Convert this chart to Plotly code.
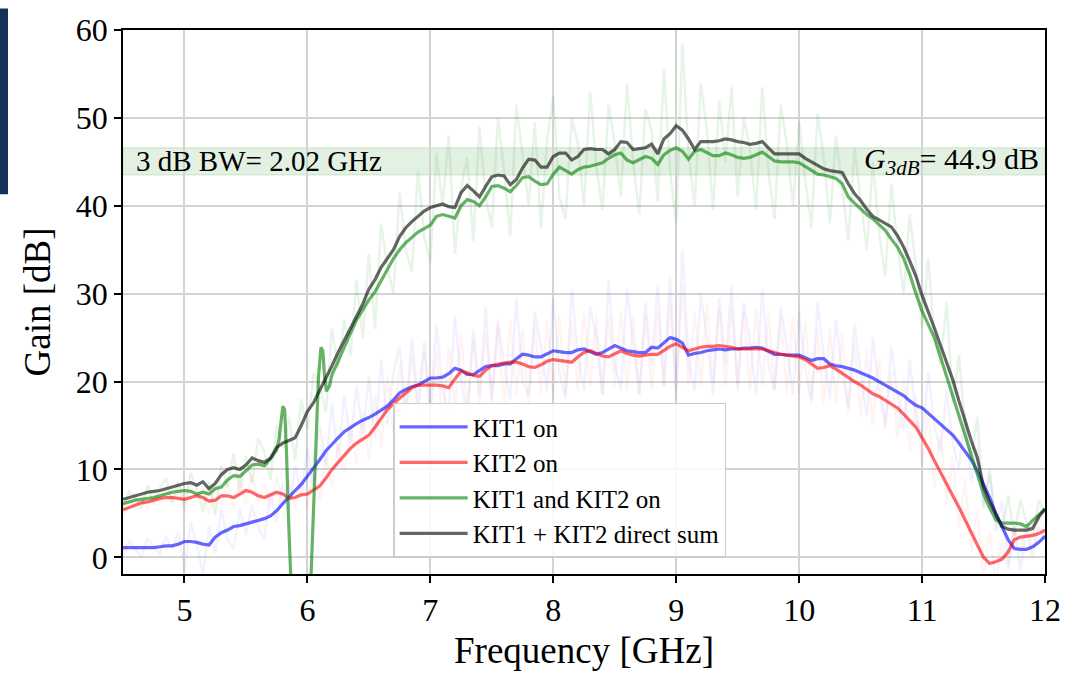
import plotly.graph_objects as go

# ---------------- data ----------------
FREQ = [round(4.5 + 0.05 * i, 2) for i in range(151)]  # GHz grid

KIT1 = [1.1, 1.1, 1.1, 1.1, 1.1, 1.1, 1.2, 1.3, 1.3, 1.5,
        1.8, 1.8, 1.7, 1.5, 1.4, 2.3, 2.8, 3.1, 3.5, 3.6,
        3.8, 4.0, 4.2, 4.4, 4.7, 5.3, 6.1, 6.9, 7.6, 8.3,
        9.2, 10.1, 11.1, 12.1, 12.9, 13.6, 14.3, 14.8, 15.2, 15.6,
        15.9, 16.3, 16.8, 17.2, 17.9, 18.7, 19.1, 19.4, 19.6, 20.0,
        20.4, 20.4, 20.5, 20.9, 21.5, 21.3, 20.8, 20.8, 21.2, 21.7,
        21.8, 21.8, 22.0, 22.0, 22.6, 23.1, 23.0, 22.8, 22.8, 23.2,
        23.5, 23.4, 23.3, 23.3, 23.6, 23.7, 23.4, 23.1, 23.3, 23.7,
        24.1, 23.8, 23.5, 23.4, 23.3, 23.3, 23.9, 23.8, 24.4, 25.0,
        24.8, 24.4, 23.0, 23.2, 23.3, 23.5, 23.6, 23.7, 23.6, 23.7,
        23.7, 23.8, 23.8, 23.9, 23.8, 23.5, 23.1, 23.1, 23.0, 23.0,
        23.0, 22.7, 22.4, 22.6, 22.6, 22.0, 21.8, 21.7, 21.5, 21.3,
        21.0, 20.7, 20.4, 20.0, 19.6, 19.3, 18.9, 18.4, 17.8, 17.3,
        17.0, 16.4, 15.7, 15.1, 14.5, 13.9, 13.0, 12.0, 11.1, 9.8,
        8.3, 6.8, 5.0, 3.5, 2.0, 1.0, 0.9, 0.9, 1.2, 1.7,
        2.4]

KIT2 = [5.4, 5.7, 6.0, 6.2, 6.3, 6.5, 6.7, 6.8, 6.8, 6.7,
        6.6, 6.8, 7.0, 6.8, 6.4, 6.5, 7.0, 7.0, 6.8, 7.2,
        7.6, 7.4, 7.0, 6.8, 7.1, 7.4, 7.2, 6.7, 6.8, 7.1,
        7.2, 7.7, 8.1, 9.0, 10.0, 10.8, 11.6, 12.4, 13.0, 13.5,
        13.9, 14.8, 15.8, 16.8, 17.5, 18.1, 18.8, 19.3, 19.6, 19.6,
        19.6, 19.6, 19.5, 19.3, 20.3, 21.2, 21.0, 20.7, 20.6, 21.3,
        21.8, 22.0, 22.1, 22.2, 22.2, 22.0, 21.7, 21.6, 21.9, 22.3,
        22.5, 22.4, 22.3, 22.2, 22.8, 23.3, 23.5, 23.2, 22.9, 22.8,
        23.2, 23.5, 23.2, 23.0, 22.9, 23.0, 23.1, 23.1, 23.6, 24.0,
        24.3, 23.9, 23.5, 23.7, 23.9, 24.0, 24.0, 24.1, 24.0, 23.9,
        23.7, 23.7, 23.7, 23.7, 23.7, 23.5, 23.3, 23.1, 23.0, 22.9,
        22.8, 22.5, 22.0, 21.5, 21.6, 21.8, 21.4, 20.9, 20.4, 20.0,
        19.6, 19.1, 18.6, 18.3, 17.9, 17.4, 17.0, 16.3, 15.6, 14.8,
        13.6, 12.4, 11.0, 9.6, 8.3, 7.0, 5.7, 4.2, 2.7, 1.4,
        0.0, -0.7, -0.5, -0.2, 0.6, 2.0, 2.3, 2.4, 2.5, 2.7,
        3.1]

DIRECT_SUM = [6.6, 6.8, 7.0, 7.2, 7.4, 7.5, 7.6, 7.8, 8.0, 8.2,
              8.4, 8.5, 8.2, 8.6, 7.8, 8.4, 9.4, 10.0, 10.2, 10.0,
              10.5, 11.3, 11.0, 10.8, 11.3, 12.5, 13.0, 13.3, 13.6, 15.0,
              16.6, 17.6, 19.0, 20.2, 21.8, 23.3, 24.7, 26.0, 27.5, 28.8,
              30.5, 31.6, 33.0, 34.0, 35.0, 36.5, 37.5, 38.2, 38.8, 39.4,
              39.8, 40.0, 40.2, 39.9, 39.8, 41.5, 42.3, 41.7, 41.0, 42.2,
              43.3, 43.5, 43.4, 42.4, 43.0, 44.3, 45.3, 45.2, 44.4, 44.4,
              45.6, 46.0, 46.0, 45.2, 45.6, 46.4, 46.5, 46.4, 46.4, 45.9,
              46.4, 47.3, 47.2, 46.4, 46.5, 46.6, 47.0, 45.9, 47.6, 48.2,
              49.1, 48.6, 47.6, 46.4, 47.3, 47.3, 47.3, 47.4, 47.6, 47.5,
              47.3, 47.2, 47.0, 47.1, 47.3, 46.6, 45.9, 45.9, 45.9, 45.9,
              45.9, 45.4, 45.0, 44.6, 44.2, 44.0, 43.9, 43.8, 42.5, 41.4,
              40.6, 39.6, 38.8, 38.4, 38.0, 37.6, 36.6, 35.3, 33.7, 32.0,
              29.8, 28.0, 26.1, 24.1, 22.2, 20.2, 17.8, 15.5, 13.3, 11.3,
              8.0, 6.3, 4.8, 3.5, 3.2, 3.1, 3.1, 3.1, 3.3, 4.6,
              5.5]

# KIT1 and KIT2 on: values on the grid outside 5.75-6.20, plus a finer
# list through the notch
BOTH_LOW = [6.1, 6.3, 6.5, 6.6, 6.7, 6.8, 7.0, 7.2, 7.4, 7.5,
            7.6, 7.5, 7.2, 7.4, 7.2, 7.8, 8.0, 8.8, 9.3, 9.2,
            9.8, 10.5, 10.6, 10.4, 11.2]                      # 4.50 .. 5.70
NOTCH_FREQ = [5.75, 5.77, 5.785, 5.80, 5.815, 5.83, 5.845, 5.86, 5.88, 5.95,
              6.0, 6.03, 6.06, 6.09, 6.11, 6.125, 6.14, 6.155, 6.18, 6.20]
NOTCH_GAIN = [12.2, 13.5, 15.5, 17.2, 16.8, 12.0, 5.0, -2.0, -8.0, -15.0,
              -9.0, -2.0, 10.0, 20.5, 23.9, 23.5, 20.5, 18.9, 19.5, 20.8]
BOTH_HIGH = [22.3, 24.0, 25.5, 27.0, 28.2, 29.3, 30.2, 31.5, 32.8, 34.0,
             35.0, 35.8, 36.4, 37.0, 37.4,                      # 6.25 .. 6.95
             37.8, 38.8, 39.0, 38.8, 38.6, 40.0, 40.7, 40.5, 40.0, 41.0,
             42.2, 42.3, 42.0, 41.6, 42.3, 43.2, 43.3, 42.8, 42.4, 42.5,
             43.6, 44.4, 44.0, 43.6, 44.1, 44.4, 44.5, 44.7, 44.9, 45.4,
             45.8, 46.0, 45.2, 44.9, 45.3, 45.6, 45.4, 44.7, 45.8, 46.3,
             46.6, 46.2, 45.3, 46.2, 46.4, 46.0, 45.7, 45.7, 46.0, 45.8,
             45.5, 45.4, 45.5, 45.8, 46.1, 45.6, 45.1, 45.0, 45.0, 45.0,
             44.9, 44.5, 44.1, 43.6, 43.5, 43.3, 43.1, 42.5, 41.0, 40.3,
             39.6, 39.0, 38.5, 37.9, 37.2, 36.2, 35.3, 34.0, 32.2, 30.0,
             28.0, 26.5, 25.0, 22.8, 20.6, 18.2, 16.0, 13.8, 11.5, 9.3,
             7.2, 5.6, 4.3, 3.9, 3.9, 3.9, 3.8, 3.5, 4.2, 4.8,
             5.5]

# faint raw (unsmoothed) traces
KIT1_RAW = [0.2, 1.8, 1.0, 0.0, 2.2, 1.2, 0.4, 2.4, 1.0, 2.8,
            -1.5, 4.0, 1.5, -2.0, 3.5, 0.5, 5.5, 2.0, 1.0, 5.5,
            2.5, 6.0, 3.5, 2.0, 7.5, 4.0, 8.5, 5.5, 10.5, 7.0,
            12.5, 8.0, 15.0, 10.5, 17.5, 11.0, 18.5, 13.0, 19.5, 14.0,
            20.5, 13.5, 22.5, 15.0, 21.0, 24.0, 16.5, 25.0, 17.5, 24.5,
            17.0, 26.5, 19.0, 16.5, 27.5, 20.0, 16.0, 26.0, 18.5, 28.5,
            17.5, 27.0, 22.0, 18.0, 29.5, 20.0, 18.5, 28.0, 24.0, 19.0,
            29.5, 21.0, 18.0, 30.5, 23.0, 19.0, 28.5, 25.0, 18.5, 31.5,
            22.0, 19.0, 30.5, 24.5, 18.5, 29.0, 22.0, 31.0, 19.5, 32.0,
            18.0, 35.0, 22.5, 19.0, 30.0, 25.0, 18.5, 29.5, 22.0, 31.0,
            19.0, 29.0, 24.5, 18.5, 30.5, 22.0, 19.0, 28.5, 24.0, 18.5,
            28.0, 21.5, 17.5, 29.0, 23.0, 18.0, 27.0, 21.0, 17.0, 26.5,
            21.5, 16.0, 25.0, 19.0, 15.0, 24.0, 18.5, 14.5, 22.5, 16.0,
            13.5, 21.0, 15.0, 12.0, 19.0, 13.0, 10.0, 16.5, 8.5, 12.5,
            6.0, 10.0, 3.0, 6.5, -1.0, 3.5, -1.5, 3.0, 0.0, 3.5,
            2.0]

KIT2_RAW = [4.6, 6.6, 5.5, 6.9, 5.4, 7.5, 6.0, 7.8, 6.3, 7.4,
            5.2, 8.2, 6.6, 8.0, 4.8, 8.4, 6.0, 8.6, 5.6, 9.0,
            6.0, 9.4, 6.2, 8.2, 5.8, 9.2, 6.0, 8.8, 5.4, 9.2,
            5.6, 10.0, 6.5, 11.5, 8.0, 13.0, 9.5, 15.0, 10.5, 16.5,
            11.0, 18.5, 12.5, 20.5, 14.0, 22.0, 15.5, 23.0, 16.0, 23.5,
            16.0, 23.5, 15.5, 24.0, 17.0, 25.5, 16.5, 25.0, 17.5, 25.5,
            18.0, 26.5, 17.5, 27.0, 18.5, 26.0, 17.0, 26.5, 18.5, 27.0,
            18.0, 27.5, 18.5, 27.0, 19.0, 28.0, 19.5, 27.5, 18.5, 27.5,
            19.5, 28.0, 19.0, 27.5, 18.5, 27.5, 19.0, 28.0, 19.5, 29.0,
            19.0, 31.0, 19.5, 28.0, 19.5, 29.0, 20.0, 28.5, 19.5, 28.5,
            19.5, 28.0, 19.0, 28.5, 19.5, 28.0, 19.0, 27.5, 18.5, 27.5,
            18.5, 27.0, 18.0, 26.0, 17.5, 26.0, 17.5, 25.5, 16.5, 24.5,
            16.0, 23.5, 15.0, 22.5, 14.5, 21.0, 13.5, 20.5, 12.0, 18.5,
            10.5, 17.0, 8.0, 14.5, 6.0, 11.5, 3.5, 9.0, 0.5, 5.5,
            -2.5, 3.0, -3.0, 2.0, -1.5, 3.5, 0.5, 4.0, 1.0, 4.5,
            3.0]

BOTH_RAW = [5.5, 7.5, 6.8, 5.6, 8.2, 6.0, 7.9, 9.0, 6.2, 8.6,
            6.0, 9.6, 7.8, 5.2, 8.6, 4.8, 10.4, 8.0, 11.8, 7.5,
            11.5, 8.5, 13.5, 12.0, 8.8, 15.0, 12.5, 16.0, 11.0, 18.0,
            14.5, 21.0, 19.5, 16.5, 26.0, 21.5, 27.0, 23.0, 31.5, 25.0,
            34.5, 26.0, 38.0, 33.0, 30.0, 41.5, 35.0, 32.5, 44.0, 36.5,
            33.5, 46.0, 40.0, 48.0, 34.5, 42.0, 45.5, 36.0, 49.0, 41.0,
            37.5, 50.0, 44.0, 36.5, 51.5, 46.0, 40.0, 49.5, 37.5, 47.5,
            52.5, 41.0, 38.5, 50.0, 47.0, 40.0, 53.0, 44.5, 39.5, 51.5,
            47.0, 41.0, 54.0, 45.0, 39.0, 51.0, 48.5, 40.5, 55.5, 44.0,
            38.0, 58.5, 46.0, 40.0, 54.0, 48.5, 39.5, 52.0, 45.0, 53.5,
            41.0, 50.0, 46.5, 39.5, 53.5, 44.0, 38.5, 51.5, 47.0, 40.0,
            49.5, 43.0, 37.5, 50.5, 45.5, 38.0, 48.0, 42.0, 36.0, 46.5,
            40.5, 35.0, 45.0, 37.0, 32.0, 42.5, 35.5, 30.0, 39.0, 33.0,
            26.0, 34.0, 25.0, 22.0, 29.0, 17.5, 23.0, 15.0, 11.0, 16.0,
            5.5, 9.5, 4.0, 3.0, 7.0, 2.5, 6.5, 4.0, 2.5, 6.5,
            5.0]

G_3DB = 44.9        # dB
BW_3DB = 2.02       # GHz
BAND = [43.5, 46.6]  # shaded 3 dB band (dB)

X_TICKS = [5, 6, 7, 8, 9, 10, 11, 12]
Y_TICKS = [0, 10, 20, 30, 40, 50, 60]

# ---------------- figure ----------------
FONT = "Liberation Serif, Times New Roman, serif"

both_freq = FREQ[:25] + NOTCH_FREQ + FREQ[35:]
both_gain = BOTH_LOW + NOTCH_GAIN + BOTH_HIGH

fig = go.Figure()

# faint raw traces
for y, col in [(KIT1_RAW, "rgba(0,0,255,0.05)"),
               (KIT2_RAW, "rgba(255,0,0,0.045)"),
               (BOTH_RAW, "rgba(0,128,0,0.09)")]:
    fig.add_trace(go.Scatter(x=FREQ, y=y, mode="lines", showlegend=False,
                             hoverinfo="skip",
                             line=dict(color=col, width=2.5)))

main = [
    ("KIT1 on", FREQ, KIT1, "rgba(0,0,255,0.6)"),
    ("KIT2 on", FREQ, KIT2, "rgba(255,0,0,0.6)"),
    ("KIT1 and KIT2 on", both_freq, both_gain, "rgba(0,128,0,0.6)"),
    ("KIT1 + KIT2 direct sum", FREQ, DIRECT_SUM, "rgba(0,0,0,0.6)"),
]
for i, (name, x, y, col) in enumerate(main):
    fig.add_trace(go.Scatter(x=x, y=y, mode="lines", name=name,
                             legendgroup=f"g{i}",
                             line=dict(color=col, width=3.2)))

# 3 dB band
fig.add_shape(type="rect", xref="paper", yref="y", x0=0, x1=1,
              y0=BAND[0], y1=BAND[1], layer="between",
              fillcolor="rgba(0,128,0,0.11)",
              line=dict(color="rgba(0,128,0,0.10)", width=1.5))

fig.add_annotation(xref="paper", yref="y", x=0.012, y=(BAND[0] + BAND[1]) / 2,
                   xanchor="left", yanchor="middle", showarrow=False,
                   text=f"3 dB BW= {BW_3DB:.2f} GHz",
                   font=dict(family=FONT, size=29, color="black"))
fig.add_annotation(xref="paper", yref="y", x=0.996, y=(BAND[0] + BAND[1]) / 2,
                   xanchor="right", yanchor="middle", showarrow=False,
                   text=f"<i>G</i><sub><i>3dB</i></sub>= {G_3DB:.1f} dB",
                   font=dict(family=FONT, size=30, color="black"))

# dark strip at the left edge of the image
fig.add_shape(type="rect", xref="paper", yref="paper",
              x0=-123 / 922, x1=-115 / 922, y0=(578 - 190) / 556, y1=578 / 556,
              fillcolor="#153259", line=dict(width=0), layer="above")

axis_common = dict(showline=True, linecolor="black", linewidth=1.6, mirror=True,
                   ticks="outside", ticklen=7, tickwidth=1.6, tickcolor="black",
                   showgrid=True, gridcolor="#d3d3d3", gridwidth=1.5,
                   zeroline=False,
                   tickfont=dict(family=FONT, size=32, color="black"))

fig.update_xaxes(range=[4.5, 12], tickvals=X_TICKS,
                 title=dict(text="Frequency [GHz]", standoff=10,
                            font=dict(family=FONT, size=37, color="black")),
                 **axis_common)
fig.update_yaxes(range=[-1.9, 60], tickvals=Y_TICKS,
                 title=dict(text="Gain [dB]", standoff=14,
                            font=dict(family=FONT, size=37, color="black")),
                 **axis_common)

fig.update_layout(
    width=1076, height=676,
    margin=dict(l=123, r=31, t=22, b=98),
    plot_bgcolor="white", paper_bgcolor="white",
    font=dict(family=FONT, color="black"),
    legend=dict(x=0.293, y=0.03, xanchor="left", yanchor="bottom",
                bgcolor="rgba(255,255,255,0.85)", bordercolor="#cccccc",
                borderwidth=1.5, traceorder="grouped", tracegroupgap=0,
                itemwidth=68,
                font=dict(family=FONT, size=25, color="black")),
)

fig.write_html("out.html")
